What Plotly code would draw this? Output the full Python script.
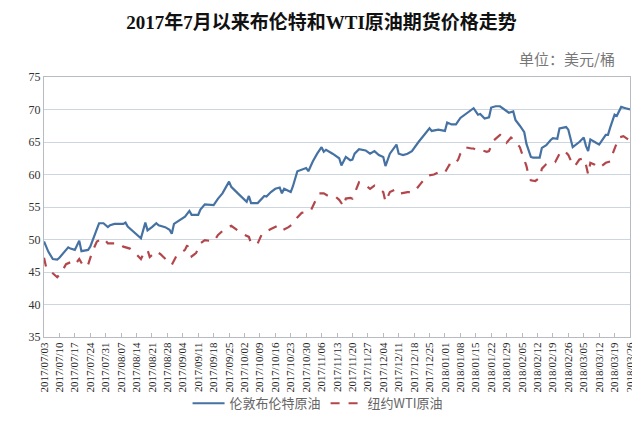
import pandas as pd
import plotly.graph_objects as go

START = "2017-07-03"
END = "2018-03-26"

# Brent: day offsets from START and prices (USD/bbl)
brent_day = [0, 2, 4, 6, 7, 9, 11, 12, 14, 16, 17, 20, 21, 24, 25, 27, 29, 30, 32, 36, 37, 38,
             41, 44, 46, 47, 49, 51, 52, 55, 57, 58, 59, 62, 64, 66, 67, 70, 71, 73, 77, 79,
             81, 84, 85, 88, 91, 92, 93, 94, 97, 99, 100, 101, 103, 105, 107, 108, 109, 112,
             113, 115, 117, 119, 120, 122, 124, 126, 127, 128, 131, 134, 135, 137, 139, 140,
             141, 143, 146, 148, 150, 152, 154, 155, 157, 160, 161, 163, 165, 167, 170, 173,
             175, 176, 179, 182, 183, 185, 187, 189, 192, 194, 195, 197, 198, 200, 202, 203,
             205, 207, 209, 211, 213, 214, 216, 218, 219, 221, 222, 225, 226, 228, 230, 231,
             233, 234, 237, 238, 240, 243, 245, 246, 247, 248, 250, 252, 255, 256, 257, 259,
             260, 262, 264, 266]
brent_val = [49.7, 48.1, 47.0, 46.9, 47.2, 48.0, 48.8, 48.6, 48.4, 49.8, 48.2, 48.4, 48.9, 51.6,
             52.5, 52.5, 51.9, 52.2, 52.4, 52.4, 52.6, 52.0, 51.1, 50.2, 52.6, 51.4, 51.9, 52.5,
             52.2, 51.9, 51.5, 50.9, 52.4, 53.0, 53.5, 54.4, 53.8, 53.8, 54.6, 55.4, 55.3, 56.3,
             57.1, 58.9, 58.1, 57.1, 56.1, 55.8, 56.7, 55.6, 55.6, 56.3, 56.7, 56.6, 57.3, 57.8,
             58.0, 57.1, 57.8, 57.3, 58.2, 60.5, 60.8, 61.0, 60.5, 62.0, 63.2, 64.2, 63.5, 63.8,
             63.2, 62.5, 61.4, 62.7, 62.2, 62.3, 63.2, 63.9, 63.7, 63.2, 63.6, 63.0, 62.7, 61.3,
             63.2, 64.6, 63.2, 63.0, 63.2, 63.6, 65.0, 66.2, 67.1, 66.7, 66.9, 66.7, 68.0, 67.7,
             67.7, 68.7, 69.5, 70.0, 70.2, 69.2, 69.3, 68.6, 68.8, 70.3, 70.5, 70.5, 70.0, 69.5,
             69.7, 68.4, 67.5, 66.5, 64.7, 62.7, 62.6, 62.6, 64.1, 64.5, 65.3, 65.6, 65.5, 67.1,
             67.3, 66.9, 64.2, 65.0, 65.7, 64.4, 63.6, 65.4, 65.0, 64.6, 66.1, 66.1, 67.2, 69.2,
             69.0, 70.4, 70.2, 70.0]

# WTI: day offsets from START and prices (USD/bbl)
wti_day = [0, 1, 3, 5, 6, 8, 10, 12, 14, 16, 18, 20, 22, 24, 27, 29, 31, 34, 36, 39, 42, 44, 45,
           47, 48, 51, 53, 56, 58, 60, 64, 65, 67, 69, 71, 73, 77, 79, 82, 85, 87, 90, 93, 94,
           97, 99, 103, 106, 108, 111, 113, 115, 117, 121, 123, 125, 127, 129, 132, 134, 136,
           137, 139, 140, 141, 143, 146, 148, 150, 152, 154, 155, 157, 160, 162, 165, 168, 171,
           174, 177, 180, 182, 184, 186, 188, 189, 191, 194, 195, 197, 199, 201, 202, 204, 205,
           207, 209, 210, 212, 214, 216, 217, 219, 220, 221, 223, 225, 226, 228, 230, 232, 234,
           236, 238, 240, 241, 243, 245, 246, 247, 248, 250, 252, 255, 257, 258, 260, 261, 263,
           264, 266]
wti_val = [47.2, 45.7, 45.1, 44.5, 44.2, 45.0, 46.2, 46.5, 46.1, 47.0, 45.8, 46.1, 48.2, 49.7,
           50.2, 49.4, 49.4, 49.4, 48.9, 48.6, 47.7, 47.0, 47.7, 48.4, 47.3, 48.2, 47.7, 46.7,
           46.1, 47.4, 48.4, 49.1, 47.4, 47.9, 49.4, 49.9, 49.7, 50.7, 51.6, 52.1, 51.6, 50.9,
           50.4, 49.4, 49.4, 50.9, 51.6, 52.1, 51.4, 51.9, 52.4, 53.4, 54.1, 54.4, 55.8, 57.1,
           57.1, 56.7, 56.7, 56.1, 55.1, 56.3, 56.4, 56.3, 57.1, 58.8, 58.3, 57.8, 58.3, 57.8,
           57.3, 55.8, 57.3, 57.8, 57.1, 57.3, 57.3, 58.6, 59.8, 60.0, 60.5, 60.3, 61.5, 61.3,
           62.3, 63.2, 64.2, 64.0, 64.0, 63.6, 63.7, 63.5, 63.6, 65.2, 65.5, 66.1, 65.5, 64.9,
           65.7, 65.1, 64.2, 63.2, 61.3, 59.8, 59.1, 59.0, 59.5, 60.9, 61.6, 61.8, 61.9, 63.2,
           63.7, 63.0, 61.5, 61.3, 62.3, 62.5, 61.5, 60.0, 61.8, 61.5, 61.0, 61.8, 62.0, 63.1,
           64.7, 65.7, 65.9, 65.7, 65.2]

series_names = ["伦敦布伦特原油", "纽约WTI原油"]
title_text = "2017年7月以来布伦特和WTI原油期货价格走势"
unit_text = "单位：美元/桶"

start = pd.Timestamp(START)
brent_x = start + pd.to_timedelta(brent_day, unit="D")
wti_x = start + pd.to_timedelta(wti_day, unit="D")

fig = go.Figure()
fig.add_trace(go.Scatter(x=brent_x, y=brent_val, mode="lines", name=series_names[0],
                         line=dict(color="#4672a3", width=2.2)))
fig.add_trace(go.Scatter(x=wti_x, y=wti_val, mode="lines", name=series_names[1],
                         line=dict(color="#b2464b", width=2.2, dash="dash")))

serif = "Liberation Serif, Noto Sans CJK SC, serif"
cjk = "Noto Sans CJK SC, sans-serif"

fig.update_layout(
    width=640, height=422,
    margin=dict(l=36, r=15, t=69, b=83),
    paper_bgcolor="white", plot_bgcolor="white",
    title=dict(text="<b>" + title_text + "</b>", x=0.49, xanchor="center", y=0.965,
               yanchor="middle", font=dict(family=serif, size=19, color="#111111")),
    showlegend=True,
    legend=dict(orientation="h", x=0.245, xanchor="left", y=-0.255, yanchor="middle",
                font=dict(family=cjk, size=13, color="#666666"), itemwidth=32,
                bgcolor="rgba(0,0,0,0)"),
    annotations=[dict(text=unit_text, xref="paper", yref="paper", x=0.978, y=1.07,
                      xanchor="right", yanchor="middle", showarrow=False,
                      font=dict(family=cjk, size=15, color="#777777"))],
)

fig.update_xaxes(
    type="date", range=[START, END], tick0=START, dtick=7 * 86400000,
    tickformat="%Y/%m/%d", tickangle=-90,
    tickfont=dict(family=serif, size=11, color="#222222"),
    showgrid=False, showline=True, linecolor="#b8bcc2", linewidth=1, mirror=True,
    ticks="inside", ticklen=4, tickcolor="#b8bcc2",
)
fig.update_yaxes(
    range=[35, 75], dtick=5, tick0=35,
    tickfont=dict(family=serif, size=12, color="#333333"),
    showgrid=True, gridcolor="#cdd5de", gridwidth=1,
    showline=True, linecolor="#b8bcc2", linewidth=1, mirror=True,
    zeroline=False, ticks="",
)

fig.write_html("out.html")
